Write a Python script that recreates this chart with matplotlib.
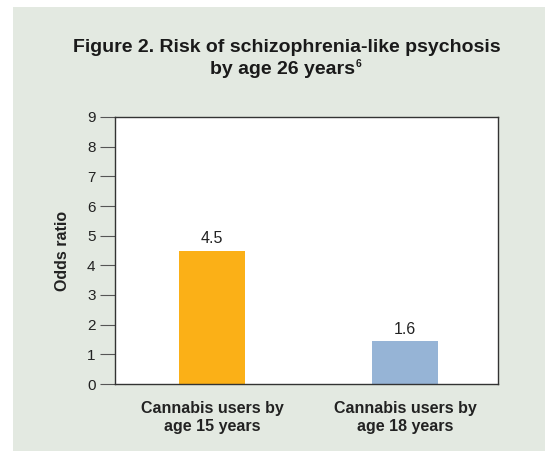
import matplotlib
matplotlib.use("Agg")
import matplotlib.pyplot as plt
from matplotlib.patches import Rectangle

categories = ["Cannabis users by\nage 15 years", "Cannabis users by\nage 18 years"]
bar_heights = [4.5, 1.45]
value_labels = ["4.5", "1.6"]
bar_colors = ["#fbb017", "#96b4d6"]
y_ticks = list(range(0, 10))

plt.rcParams["font.family"] = ["Liberation Sans", "DejaVu Sans"]

fig = plt.figure(figsize=(5.5, 4.51), dpi=100)
fig.patch.set_facecolor("white")
fig.patches.append(Rectangle((13 / 550, 0.0), 532 / 550, 1 - 7 / 451,
                             transform=fig.transFigure, facecolor="#e3e9e1",
                             edgecolor="none", zorder=-10))

ax = fig.add_axes([115 / 550, 1 - 384 / 451, 383 / 550, 267 / 451])
ax.set_facecolor("white")
x = list(range(len(categories)))
bars = ax.bar(x, bar_heights, width=0.34, color=bar_colors, zorder=2)
for b, lab in zip(bars, value_labels):
    ax.text(b.get_x() + b.get_width() / 2, b.get_height() + 0.15, lab,
            ha="center", va="bottom", fontsize=11.5, color="#222222")

ax.set_xlim(-0.503, 1.482)
ax.set_ylim(0, 9)
ax.set_yticks(y_ticks)
ax.set_yticklabels([str(t) for t in y_ticks], fontsize=11, color="#222222")
ax.tick_params(axis="y", length=11, width=0.8, color="#555555", pad=3)
ax.set_xticks(x)
ax.set_xticklabels(categories, fontsize=11.5, fontweight="bold", color="#222222",
                   linespacing=1.3)
ax.tick_params(axis="x", length=0, pad=12)
for s in ax.spines.values():
    s.set_color("#333333")
    s.set_linewidth(1.0)
ax.set_ylabel("Odds ratio", fontsize=11.5, fontweight="bold", color="#222222", labelpad=12)

fig.text(287 / 550, 1 - 47 / 451, "Figure 2. Risk of schizophrenia-like psychosis",
         ha="center", va="center", fontsize=14, fontweight="bold", color="#1a1a1a")
t2 = fig.text(282 / 550, 1 - 70 / 451, "by age 26 years",
              ha="center", va="center", fontsize=14, fontweight="bold", color="#1a1a1a")
ax.annotate("6", xy=(1, 1), xycoords=t2, xytext=(0.5, 2), textcoords="offset points",
            ha="left", va="top", fontsize=7.5, fontweight="bold", color="#1a1a1a",
            annotation_clip=False)

fig.savefig("out.png", dpi=100, facecolor=fig.get_facecolor())
